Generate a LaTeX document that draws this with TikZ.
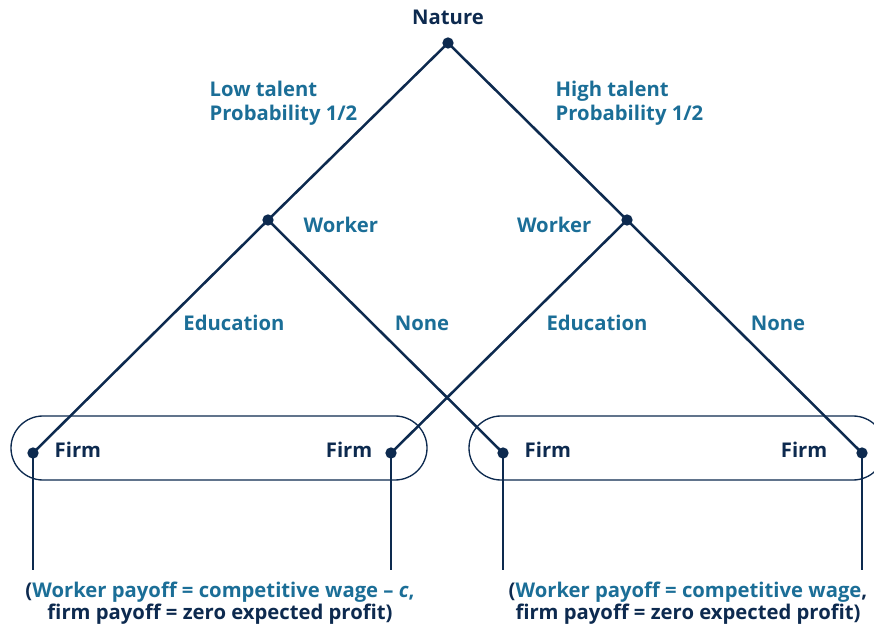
\documentclass[tikz,border=0pt]{standalone}
\usepackage{fontspec}
\setmainfont{Open Sans}
\usetikzlibrary{positioning}

\definecolor{navy}{HTML}{0D2A4F}
\definecolor{teal}{HTML}{1B6E97}

\begin{document}
\begin{tikzpicture}[
    x=0.75pt, y=-0.75pt,
    every node/.style={font=\fontsize{15.2}{18}\selectfont\bfseries},
    dot/.style={circle, fill=navy, inner sep=0pt, minimum size=8.5pt},
    branch/.style={navy, line width=1.9pt},
    infoset/.style={navy, line width=1pt, rounded corners=24pt},
    actlbl/.style={teal},
    plylbl/.style={navy}
]
\useasboundingbox (0,0) rectangle (874,627);

% Decision nodes
\node[dot] (nat) at (448,43) {};
\node[dot] (wlo) at (268,220) {};
\node[dot] (whi) at (627,220) {};
\node[dot] (f1) at (33,453) {};
\node[dot] (f2) at (391,453) {};
\node[dot] (f3) at (503,453) {};
\node[dot] (f4) at (862,453) {};

% Terminal points
\foreach \f in {1,2,3,4}
    \path (f\f.center) ++(0,117) coordinate (t\f);

% Information sets
\draw[infoset] (11,416) rectangle (427,480);
\draw[infoset] (469,416) rectangle (885,480);

% Branches
\draw[branch] (nat.center) -- (wlo.center);
\draw[branch] (nat.center) -- (whi.center);
\draw[branch] (wlo.center) -- (f1.center);
\draw[branch] (wlo.center) -- (f3.center);
\draw[branch] (whi.center) -- (f2.center);
\draw[branch] (whi.center) -- (f4.center);
\foreach \f in {1,2,3,4}
    \draw[branch] (f\f.center) -- (t\f);

% Player labels
\node[plylbl] (lnat) at (448,17) {Nature};
\node[actlbl, anchor=west] (lwlo) at (299,225) {Worker};
\node[actlbl, anchor=east] (lwhi) at (596,225) {Worker};
\node[plylbl, anchor=west] (lf1) at (50,450) {Firm};
\node[plylbl, anchor=east] (lf2) at (377,450) {Firm};
\node[plylbl, anchor=west] (lf3) at (520,450) {Firm};
\node[plylbl, anchor=east] (lf4) at (832,450) {Firm};

% Move labels
\node[actlbl, align=left, anchor=west] (llo) at (205,103) {Low talent\\Probability 1/2};
\node[actlbl, align=left, anchor=west] (lhi) at (551,103) {High talent\\Probability 1/2};
\node[actlbl] (led1) at (234,323) {Education};
\node[actlbl] (lno1) at (422,323) {None};
\node[actlbl] (led2) at (597,323) {Education};
\node[actlbl] (lno2) at (778,323) {None};

% Payoffs
\node[plylbl, align=center, font=\fontsize{15.2}{16.5}\selectfont\bfseries] (pay1) at (220,603)
    {(\textcolor{teal}{Worker payoff = competitive wage – \textit{c},}\\firm payoff = zero expected profit)};
\node[plylbl, align=center, font=\fontsize{15.2}{16.5}\selectfont\bfseries] (pay2) at (688,603)
    {(\textcolor{teal}{Worker payoff = competitive wage},\\firm payoff = zero expected profit)};

\end{tikzpicture}
\end{document}
